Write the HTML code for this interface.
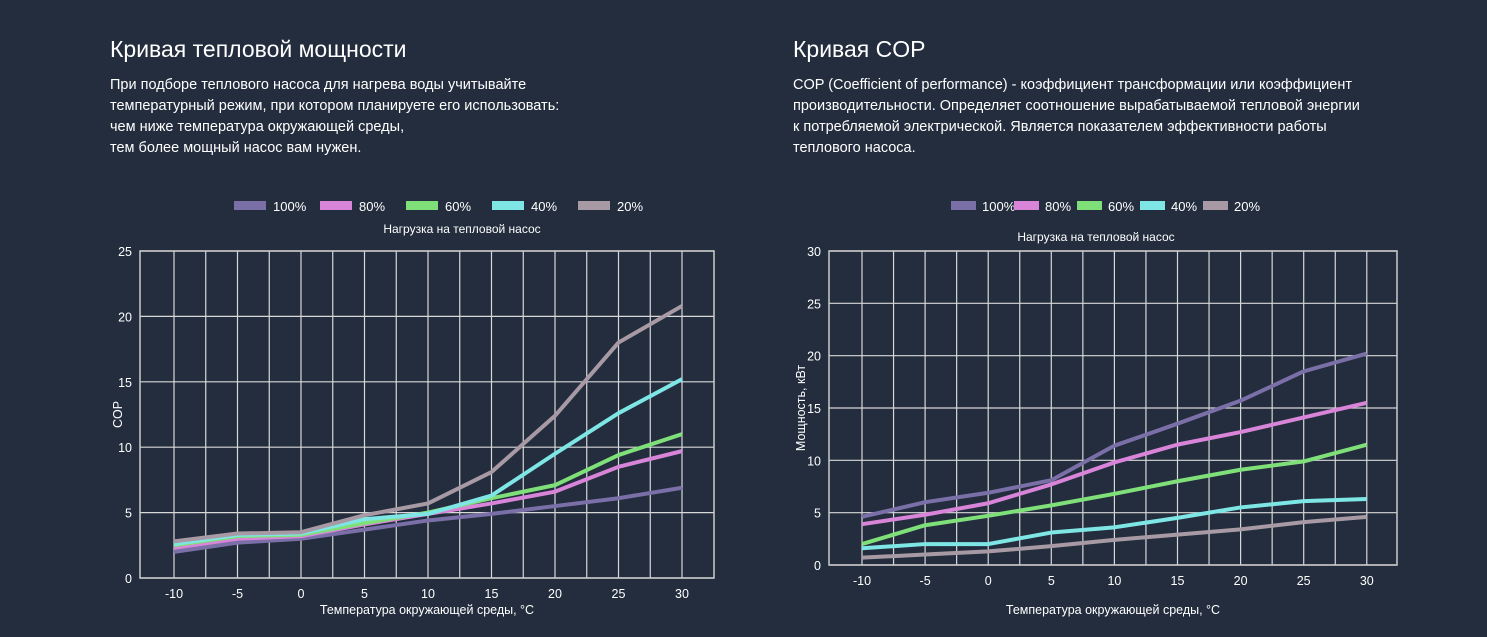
<!DOCTYPE html>
<html><head><meta charset="utf-8"><style>
html,body{margin:0;padding:0;background:#232d3d;width:1487px;height:637px;overflow:hidden}
body{font-family:"Liberation Sans","DejaVu Sans",sans-serif;color:#fff;position:relative}
h2{position:absolute;margin:0;font-weight:400;font-size:23px}
p{position:absolute;margin:0;font-size:14.5px;line-height:21px}
svg{position:absolute;left:0;top:0}
</style></head><body>
<h2 style="left:110px;top:36px">Кривая тепловой мощности</h2>
<p style="left:110px;top:75px;width:520px">При подборе теплового насоса для нагрева воды учитывайте<br>температурный режим, при котором планируете его использовать:<br>чем ниже температура окружающей среды,<br>тем более мощный насос вам нужен.</p>
<h2 style="left:793px;top:36px">Кривая COP</h2>
<p style="left:793px;top:75px;width:620px">COP (Coefficient of performance) - коэффициент трансформации или коэффициент<br>производительности. Определяет соотношение вырабатываемой тепловой энергии<br>к потребляемой электрической. Является показателем эффективности работы<br>теплового насоса.</p>
<svg width="1487" height="637" id="s" font-family="Liberation Sans, sans-serif" font-size="12.5" fill="#fff"></svg>
<script>
const s=document.getElementById('s');let h='';
const cols=['#7b6fa8','#d884d8','#7fe07a','#7fe6e6','#a89aa4'],labs=['100%','80%','60%','40%','20%'];
function chart(o){
 const {L,R,T,B,x0,dx,ymax,ystep,data,lx,lgap,ylab,xlabY,titleY,sw,to}=o;
 const ys=(B-T)/ymax, X=v=>x0+(v+10)/5*dx, Y=v=>B-v*ys;
 for(let v=-10;v<=30;v+=2.5){h+=`<line x1="${X(v)}" y1="${T}" x2="${X(v)}" y2="${B}" stroke="#d8d8d8" stroke-width="1.2"/>`;}
 for(let v=0;v<=ymax;v+=ystep){h+=`<line x1="${L}" y1="${Y(v)}" x2="${R}" y2="${Y(v)}" stroke="#d8d8d8" stroke-width="1.2"/><text x="${L-8}" y="${Y(v)+5}" text-anchor="end">${v}</text>`;}
 h+=`<rect x="${L}" y="${T}" width="${R-L}" height="${B-T}" fill="none" stroke="#ccc" stroke-width="1.5"/>`;
 for(let v=-10;v<=30;v+=5)h+=`<text x="${X(v)}" y="${B+20}" text-anchor="middle">${v}</text>`;
 data.forEach((d,i)=>{h+=`<polyline fill="none" stroke="${cols[i]}" stroke-width="4" stroke-linejoin="round" points="${d.map((v,j)=>X(-10+5*j)+','+Y(v)).join(' ')}"/>`;});
 labs.forEach((l,i)=>{const x=lx+i*lgap;h+=`<rect x="${x}" y="201" width="${sw}" height="9" fill="${cols[i]}"/><text x="${x+to}" y="211" font-size="13">${l}</text>`;});
 h+=`<text x="${(L+R)/2+(o.tOff||0)}" y="${titleY}" text-anchor="middle" font-size="12">Нагрузка на тепловой насос</text>`;
 h+=`<text x="${(L+R)/2}" y="${xlabY}" text-anchor="middle" font-size="12.5">Температура окружающей среды, °C</text>`;
 h+=`<text transform="translate(${o.ylx},${(T+B)/2}) rotate(-90)" text-anchor="middle" font-size="12.5">${ylab}</text>`;
}
chart({L:140,R:714,T:251,B:578,x0:174,dx:63.5,ymax:25,ystep:5,lx:234,lgap:86,sw:32,to:39,ylab:'COP',xlabY:614,titleY:233,tOff:35,ylx:122,
 data:[[2.0,2.7,3.0,3.7,4.4,4.9,5.5,6.1,6.9],[2.3,3.0,3.2,4.1,4.9,5.7,6.6,8.5,9.7],[2.5,3.2,3.3,4.2,5.0,6.1,7.1,9.4,11.0],[2.6,3.3,3.4,4.5,4.9,6.3,9.5,12.6,15.2],[2.8,3.4,3.5,4.8,5.7,8.1,12.4,18.0,20.8]]});
chart({L:829,R:1397,T:251,B:565,x0:862,dx:63.1,ymax:30,ystep:5,lx:951,lgap:63,sw:25,to:31,ylab:'Мощность, кВт',xlabY:614,titleY:241,tOff:-17,ylx:805,
 data:[[4.6,6.0,6.9,8.1,11.4,13.5,15.7,18.5,20.2],[3.9,4.8,5.9,7.7,9.8,11.5,12.7,14.1,15.5],[2.0,3.8,4.7,5.7,6.8,8.0,9.1,9.9,11.5],[1.6,2.0,2.0,3.1,3.6,4.5,5.5,6.1,6.3],[0.7,1.0,1.3,1.8,2.4,2.9,3.4,4.1,4.6]]});
s.innerHTML=h;
</script>
</body></html>
